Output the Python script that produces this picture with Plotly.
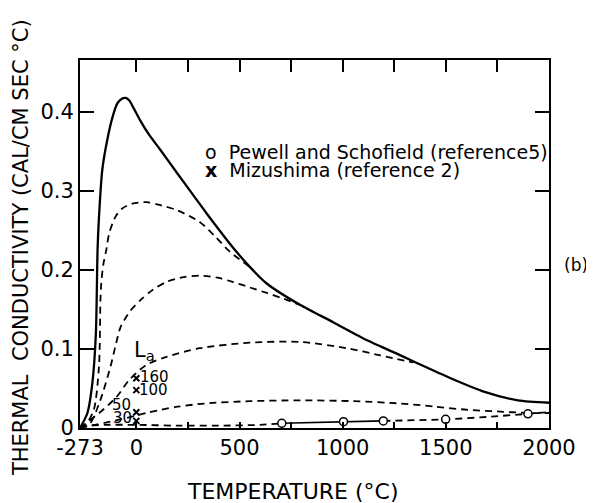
import plotly.graph_objects as go

FONT = "DejaVu Sans"

# ---- data ----
T_total = [-273, -237, -213, -196, -188, -181, -165, -140, -115, -92, -70, -52, -35, -15, 20, 60,
           117, 200, 281, 340, 467, 550, 632, 793, 954, 1119, 1280, 1362, 1523, 1684, 1849, 2000]
k_total = [0, 0.019, 0.057, 0.12, 0.225, 0.267, 0.327, 0.366, 0.394, 0.411, 0.417, 0.418, 0.415,
           0.406, 0.389, 0.372, 0.352, 0.322, 0.293, 0.272, 0.229, 0.204, 0.183, 0.156, 0.134,
           0.111, 0.092, 0.082, 0.063, 0.046, 0.035, 0.032]

T_d1 = [-273, -240, -206, -181, -174, -170, -160, -146, -131, -100, -68, -20, 49, 120, 195, 307, 380, 450, 550]
k_d1 = [0, 0.006, 0.023, 0.078, 0.162, 0.183, 0.207, 0.225, 0.247, 0.268, 0.278, 0.284, 0.286,
        0.282, 0.276, 0.261, 0.243, 0.224, 0.204]

T_d2 = [-273, -224, -175, -125, -100, -76, -30, 20, 80, 146, 230, 307, 400, 467, 550, 632, 700, 793]
k_d2 = [0, 0.006, 0.035, 0.078, 0.105, 0.128, 0.148, 0.162, 0.175, 0.185, 0.191, 0.193, 0.19,
        0.185, 0.178, 0.171, 0.165, 0.156]

T_d3 = [-273, -230, -180, -97, -34, 49, 146, 307, 550, 793, 1022, 1182, 1343]
k_d3 = [0, 0.009, 0.019, 0.039, 0.061, 0.080, 0.090, 0.101, 0.108, 0.109, 0.101, 0.092, 0.083]

T_d4 = [-273, -200, -127, 5, 63, 117, 200, 331, 550, 793, 1050, 1280, 1450, 1606, 1750, 1898, 2000]
k_d4 = [0, 0.004, 0.008, 0.016, 0.020, 0.023, 0.027, 0.031, 0.034, 0.035, 0.034, 0.031, 0.027,
        0.023, 0.021, 0.019, 0.019]

T_d5 = [-273, -230, -150, 0, 200, 400, 600, 705]
k_d5 = [0, 0.003, 0.004, 0.004, 0.003, 0.003, 0.004, 0.006]

T_pew_line = [705, 1004, 1197]
k_pew_line = [0.006, 0.008, 0.009]
T_pew_dash = [1197, 1499, 1700, 1898, 2000]
k_pew_dash = [0.009, 0.011, 0.014, 0.018, 0.020]

T_pewell = [705, 1004, 1197, 1499, 1898]
k_pewell = [0.006, 0.008, 0.009, 0.011, 0.018]

T_mizu = [0, 0, 0, 0]
k_mizu = [0.063, 0.048, 0.020, 0.009]
mizu_labels = ["160", "100", "50", "30"]
label_T = [88, 85, -72, -66]
label_k = [0.064, 0.048, 0.029, 0.013]

x_ticks = [-273, 0, 500, 1000, 1500, 2000]
x_ticktext = ["-273", "0", "500", "1000", "1500", "2000"]
x_minor = [0, 250, 500, 750, 1000, 1250, 1500, 1750]
y_ticks = [0, 0.1, 0.2, 0.3, 0.4]
y_ticktext = ["0", "0.1", "0.2", "0.3", "0.4"]

legend_labels = ["o", "<b>x</b>"]
legend_texts = ["Pewell and Schofield (reference5)", "Mizushima (reference 2)"]

fig = go.Figure()

dash_style = dict(color="black", width=1.8, dash="7px,5px", shape="spline", smoothing=0.8)

for T, k in [(T_d1, k_d1), (T_d2, k_d2), (T_d3, k_d3), (T_d4, k_d4), (T_d5, k_d5), (T_pew_dash, k_pew_dash)]:
    fig.add_trace(go.Scatter(x=T, y=k, mode="lines", line=dash_style, showlegend=False, hoverinfo="skip"))

fig.add_trace(go.Scatter(x=T_pew_line, y=k_pew_line, mode="lines",
                         line=dict(color="black", width=1.6), showlegend=False))

fig.add_trace(go.Scatter(x=T_total, y=k_total, mode="lines",
                         line=dict(color="black", width=2.3, shape="spline", smoothing=0.7),
                         showlegend=False))

fig.add_trace(go.Scatter(x=T_pewell, y=k_pewell, mode="markers", name=legend_texts[0],
                         showlegend=False,
                         marker=dict(symbol="circle", size=8, color="white",
                                     line=dict(color="black", width=1.5))))
fig.add_trace(go.Scatter(x=T_mizu, y=k_mizu, mode="markers", name=legend_texts[1],
                         showlegend=False,
                         marker=dict(symbol="x-thin", size=6, color="black",
                                     line=dict(color="black", width=2))))

# top axis ticks
fig.add_trace(go.Scatter(x=[0], y=[0], xaxis="x2", mode="markers", marker=dict(opacity=0),
                         showlegend=False, hoverinfo="skip"))

for txt, T, k in zip(mizu_labels, label_T, label_k):
    fig.add_annotation(x=T, y=k, text=txt, showarrow=False,
                       font=dict(family=FONT, size=15, color="black"))
fig.add_annotation(x=39, y=0.097, text="L<sub>a</sub>", showarrow=False,
                   font=dict(family=FONT, size=21, color="black"))

# legend as text lines
for i, (sym, txt) in enumerate(zip(legend_labels, legend_texts)):
    fig.add_annotation(x=0.262, y=0.75 - i * 0.049, xref="paper", yref="paper",
                       text=sym + "  " + txt, showarrow=False, xanchor="left", yanchor="middle",
                       font=dict(family=FONT, size=19, color="black"))

fig.add_annotation(x=1.058, y=0.443, xref="paper", yref="paper", text="(b)", showarrow=False,
                   xanchor="center", yanchor="middle",
                   font=dict(family=FONT, size=17, color="black"))
fig.add_annotation(x=-0.127, y=0.49, xref="paper", yref="paper", textangle=-90,
                   xanchor="center", yanchor="middle",
                   text="THERMAL  CONDUCTIVITY (CAL/CM SEC °C)", showarrow=False,
                   font=dict(family=FONT, size=21, color="black"))
fig.add_annotation(x=0.454, y=-0.172, xref="paper", yref="paper",
                   xanchor="center", yanchor="middle",
                   text="TEMPERATURE (°C)", showarrow=False,
                   font=dict(family=FONT, size=22, color="black"))

axis_common = dict(showgrid=False, zeroline=False, showline=True, linecolor="black", linewidth=2)

fig.update_layout(
    width=586, height=495,
    margin=dict(l=72, r=45, t=52, b=75),
    paper_bgcolor="white", plot_bgcolor="white",
    font=dict(family=FONT, size=18, color="black"),
    xaxis=dict(range=[-273, 2000], tickmode="array", tickvals=x_ticks, ticktext=x_ticktext,
               ticks="", tickfont=dict(size=21),
               minor=dict(tickmode="array", tickvals=x_minor, ticks="inside", ticklen=6,
                          tickwidth=1.5, tickcolor="black"),
               **axis_common),
    xaxis2=dict(range=[-273, 2000], overlaying="x", side="top", tickmode="array",
                tickvals=x_minor, ticks="inside", ticklen=12, tickwidth=1.5, tickcolor="black",
                showticklabels=False, **axis_common),
    yaxis=dict(range=[0, 0.466], tickmode="array", tickvals=y_ticks, ticktext=y_ticktext,
               ticks="inside", ticklen=14, tickwidth=1.5, tickcolor="black",
               tickfont=dict(size=21), mirror="ticks", **axis_common),
    showlegend=False,
)

fig.write_html("out.html")
